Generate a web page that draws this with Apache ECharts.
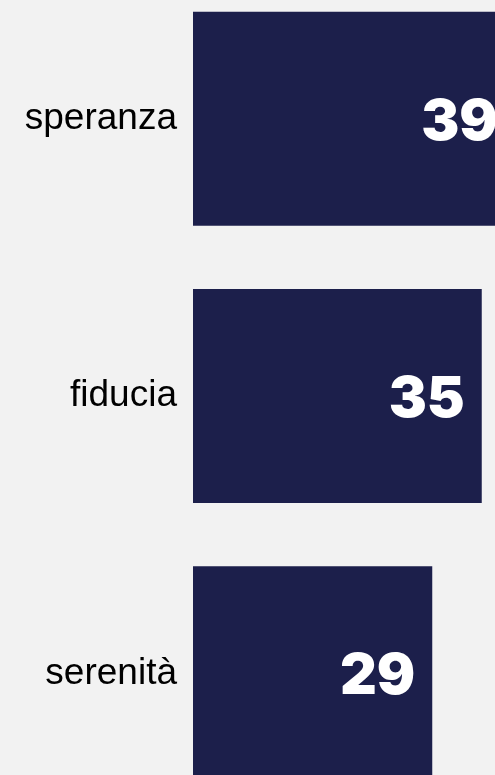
<!DOCTYPE html>
<html>
<head>
<meta charset="utf-8">
<script src="https://cdn.jsdelivr.net/npm/echarts@6/dist/echarts.min.js"></script>
<style>
    html, body { margin: 0; padding: 0; background: #f2f2f2; overflow: hidden; }
    /* the original chart is cropped on the right and at the bottom */
    #chart { position: absolute; left: 0; top: -20px; width: 523px; height: 832px; }
</style>
</head>
<body>
<div id="chart"></div>
<script>
    var categories = ['speranza', 'fiducia', 'serenità'];
    var values = [39, 35, 29];

    var chart = echarts.init(document.getElementById('chart'));
    var option = {
        backgroundColor: '#f2f2f2',
        animation: false,
        grid: {
            left: 193,
            right: 0,
            top: 0,
            bottom: 0,
            containLabel: false
        },
        xAxis: {
            type: 'value',
            min: 0,
            max: 40,
            show: false
        },
        yAxis: {
            type: 'category',
            data: categories,
            inverse: true,
            axisLine: { show: false },
            axisTick: { show: false },
            axisLabel: {
                margin: 16,
                color: '#000000',
                fontFamily: 'Liberation Sans, Arial, sans-serif',
                fontSize: 37
            }
        },
        series: [{
            type: 'bar',
            data: values,
            barWidth: 214,
            itemStyle: { color: '#1c1f4b' },
            label: {
                show: true,
                position: 'insideRight',
                distance: 17,
                offset: [0, 4],
                color: '#ffffff',
                fontFamily: 'Inter, DejaVu Sans, sans-serif',
                fontWeight: 900,
                fontSize: 57
            }
        }]
    };
    chart.setOption(option);
</script>
</body>
</html>
